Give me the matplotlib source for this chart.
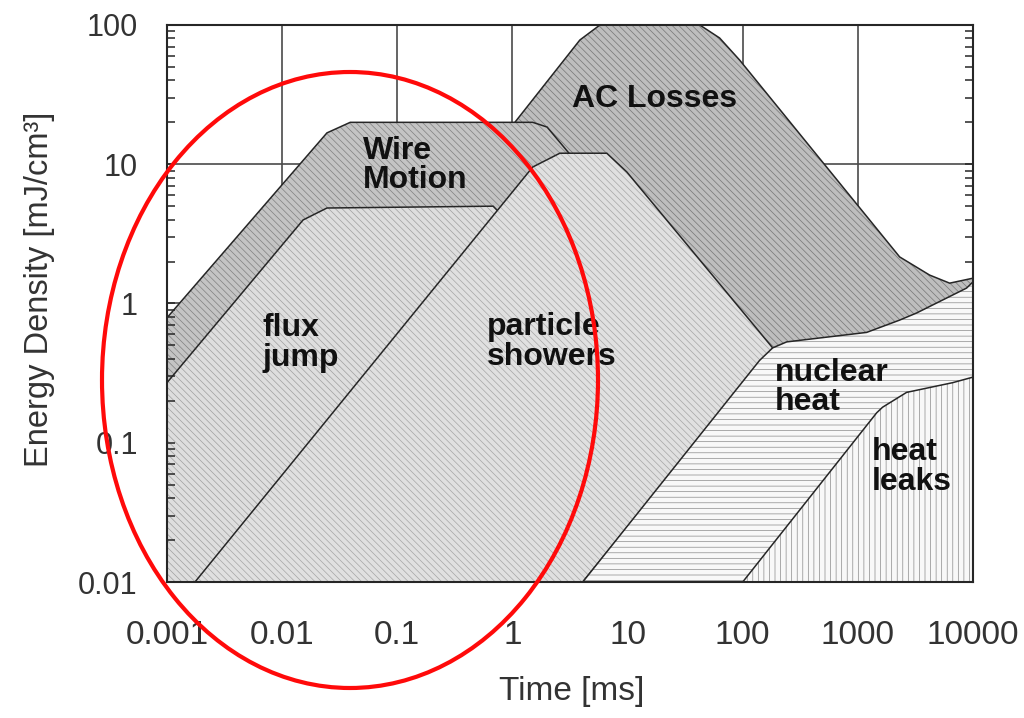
# 中文注释：复现超导磁体扰动能量谱示意图（双对数坐标下的各类扰动区域）。
# 主要流程：整理各扰动区域的边界点，按从后到前的顺序填充带阴影线的多边形。
# 输出结果：out.png，约 1024x718 像素。

# 行注释：这里启用较新的 Python 类型注解行为。
from __future__ import annotations

# 行注释：这里导入脚本后面需要用到的 Python 模块。
import matplotlib

matplotlib.use("Agg")
# 行注释：这里导入脚本后面需要用到的 Python 模块。
import matplotlib.pyplot as plt
from matplotlib.patches import Ellipse
from matplotlib.ticker import LogLocator, NullFormatter, NullLocator


# 行注释：输出文件名。
OUT = "out.png"

# 行注释：坐标轴刻度与刻度文字。
X_TICKS = [0.001, 0.01, 0.1, 1, 10, 100, 1000, 10000]
X_TICK_LABELS = ["0.001", "0.01", "0.1", "1", "10", "100", "1000", "10000"]
Y_TICKS = [0.01, 0.1, 1, 10, 100]
Y_TICK_LABELS = ["0.01", "0.1", "1", "10", "100"]

# 行注释：各区域边界点，横轴 Time [ms]，纵轴 Energy Density [mJ/cm3]。
AC_X = [1.0, 1.09, 3.85, 5.75, 42.4, 63, 94, 2307, 4200, 6270, 10000, 10000, 1.0]
AC_Y = [19.0, 20.8, 78, 100, 100, 80.7, 56, 2.16, 1.6, 1.40, 1.52, 0.01, 0.01]

WIRE_X = [0.001, 0.0245, 0.039, 1.5, 2.0, 3.1, 3.1, 0.001]
WIRE_Y = [0.79, 16.8, 20, 20, 18.5, 12.0, 0.01, 0.01]

FLUX_X = [0.001, 0.0152, 0.0245, 0.68, 0.76, 0.76, 0.001]
FLUX_Y = [0.27, 3.98, 4.85, 5.0, 4.55, 0.01, 0.01]

PARTICLE_X = [0.00175, 1.5, 2.58, 6.6, 9.85, 182, 4.08]
PARTICLE_Y = [0.01, 9.55, 12.0, 12.0, 8.8, 0.48, 0.01]

NUCLEAR_X = [4.08, 140, 182, 241, 1192, 2307, 3240, 8790, 10000, 10000]
NUCLEAR_Y = [0.01, 0.39, 0.48, 0.53, 0.62, 0.76, 0.855, 1.29, 1.43, 0.01]

LEAKS_X = [100, 1456, 1640, 2650, 6650, 10000, 10000]
LEAKS_Y = [0.01, 0.164, 0.18, 0.23, 0.27, 0.296, 0.01]

# 行注释：区域名称（与上面的区域一一对应）。
REGION_NAMES = ["AC Losses", "Wire\nMotion", "flux\njump", "particle\nshowers", "nuclear\nheat", "heat\nleaks"]

# 行注释：区域名称在图中的位置（左对齐、垂直居中，数据坐标）。
LABEL_POS = [(3.28, 29.4), (0.050, 9.8), (0.0068, 0.52), (0.6, 0.53), (190, 0.25), (1318, 0.067)]

# 行注释：颜色设置。
TICK_INK = "#333333"
EDGE = "#262626"
GRID = "#4A4A4A"
RED = "#FF0A0A"


# 函数说明：画一个带阴影线的区域，并在上面描出黑色边框。
def draw_region(ax: plt.Axes, xs: list, ys: list, face: str, hatch_color: str, hatch: str, z: float) -> None:
    # 行注释：先填充底色和阴影线。
    ax.fill(xs, ys, facecolor=face, edgecolor=hatch_color, hatch=hatch, linewidth=0, zorder=z)
    # 行注释：再描边框。
    ax.fill(xs, ys, facecolor="none", edgecolor=EDGE, linewidth=1.1, zorder=z + 0.05)


# 函数说明：脚本入口，生成最终图片。
def main() -> None:
    # 行注释：设置字体和阴影线宽度。
    plt.rcParams["font.family"] = ["Liberation Sans", "DejaVu Sans"]
    plt.rcParams["hatch.linewidth"] = 0.5

    # 行注释：创建画布和坐标轴。
    fig = plt.figure(figsize=(10.24, 7.18), dpi=100, facecolor="white")
    ax = fig.add_axes([167 / 1024, 1 - 582 / 718, 806 / 1024, 557 / 718])
    ax.set_xscale("log")
    ax.set_yscale("log")
    ax.set_xlim(X_TICKS[0], X_TICKS[-1])
    ax.set_ylim(Y_TICKS[0], Y_TICKS[-1])

    # 行注释：手动画网格线，放在区域填充之下。
    for v in X_TICKS[1:-1]:
        ax.axvline(v, color=GRID, linewidth=1.2, zorder=0.5)
    for v in Y_TICKS[1:-1]:
        ax.axhline(v, color=GRID, linewidth=1.2, zorder=0.5)

    # 行注释：从后到前依次画出各区域（阴影线密度：每个字符约 6 条/英寸）。
    draw_region(ax, AC_X, AC_Y, "#BEBEBE", "#767676", "\\" * 5, 1.0)
    draw_region(ax, WIRE_X, WIRE_Y, "#C4C4C4", "#808080", "\\" * 5, 1.2)
    draw_region(ax, FLUX_X, FLUX_Y, "#DEDEDE", "#A0A0A0", "\\" * 5, 1.4)
    draw_region(ax, PARTICLE_X, PARTICLE_Y, "#E0E0E0", "#A6A6A6", "\\" * 5, 1.6)
    draw_region(ax, NUCLEAR_X, NUCLEAR_Y, "#F8F8F8", "#8A8A8A", "-" * 3, 1.8)
    draw_region(ax, LEAKS_X, LEAKS_Y, "#F8F8F8", "#8A8A8A", "|" * 3, 2.0)

    # 行注释：写出区域名称。
    for name, (lx, ly) in zip(REGION_NAMES, LABEL_POS):
        ax.text(lx, ly, name, ha="left", va="center", fontsize=23, fontweight="bold",
                color="#111111", linespacing=0.98, zorder=3)

    # 行注释：设置刻度和刻度文字。
    ax.set_xticks(X_TICKS, X_TICK_LABELS)
    ax.xaxis.set_minor_locator(NullLocator())
    ax.set_yticks(Y_TICKS, Y_TICK_LABELS)
    ax.yaxis.set_minor_locator(LogLocator(base=10, subs=range(2, 10)))
    ax.yaxis.set_minor_formatter(NullFormatter())
    ax.tick_params(axis="x", which="major", direction="in", length=7, width=1.2, pad=27,
                   labelsize=24, color=EDGE, labelcolor=TICK_INK)
    ax.tick_params(axis="y", which="both", direction="in", left=True, right=True, width=1.1, color=EDGE)
    ax.tick_params(axis="y", which="major", length=6, pad=21, labelsize=22, labelcolor=TICK_INK)
    ax.tick_params(axis="y", which="minor", length=5.5)

    # 行注释：边框样式。
    for spine in ax.spines.values():
        spine.set_color(EDGE)
        spine.set_linewidth(1.5)
        spine.set_zorder(5)

    # 行注释：坐标轴标题。
    ax.set_xlabel("Time [ms]", fontsize=24, color=TICK_INK)
    ax.xaxis.set_label_coords(0.502, -0.168)
    ax.set_ylabel("Energy Density [mJ/cm³]", fontsize=23.5, color=TICK_INK, va="center")
    ax.yaxis.set_label_coords(-0.158, 0.526)

    # 行注释：红色椭圆标注（画在整张图片坐标上）。
    fig.add_artist(Ellipse((350 / 1024, 1 - 380 / 718), 496 / 1024, 616 / 718, transform=fig.transFigure,
                           fill=False, edgecolor=RED, linewidth=3.0, zorder=10))

    # 行注释：保存图片。
    fig.savefig(OUT, dpi=100, facecolor="white")
    plt.close(fig)


# 行注释：这里判断脚本是否被直接运行。
if __name__ == "__main__":
    main()
